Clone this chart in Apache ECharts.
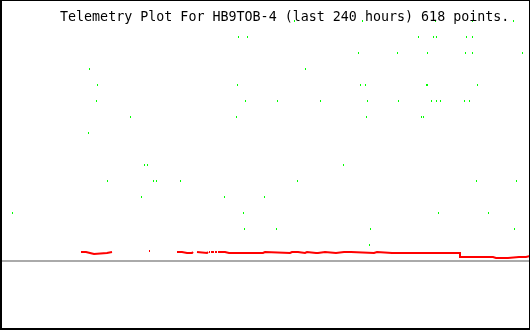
<!DOCTYPE html>
<html>
<head>
<meta charset="utf-8">
<style>
html,body{margin:0;padding:0;background:#fff;}
#chart{width:530px;height:330px;}
</style>
<script src="https://cdn.jsdelivr.net/npm/echarts@6/dist/echarts.min.js"></script>
</head>
<body>
<div id="chart"></div>
<script>
// Title
var titleText = 'Telemetry Plot For HB9TOB-4 (last 240 hours) 618 points.';

// Time window (hours relative to now)
var hourMin = -240;
var hourMax = 0;

// Green telemetry channel: hour of reading and value (raw units)
var greenHours = [
  -234.34, -199.92, -199.47, -196.30, -195.85, -191.32, -180.91, -175.92, -174.57, -173.21,
  -170.49, -169.13, -158.26, -138.34, -132.91, -132.45, -132.00, -129.74, -129.28, -128.83,
  -127.92, -120.23, -114.79, -114.34, -106.64, -105.28, -101.66, -94.87, -84.45, -77.66,
  -76.75, -75.85, -74.49, -74.04, -73.58, -72.68, -72.23, -60.00, -59.55, -50.49,
  -49.13, -48.23, -46.87, -46.42, -46.42, -44.60, -43.70, -42.79, -42.34, -42.34,
  -41.43, -40.53, -29.66, -29.21, -28.75, -27.40, -26.04, -26.04, -26.04, -24.23,
  -23.77, -18.79, -7.47, -7.02, -6.11, -3.40
];
var greenValues = [
  48, 128, 192, 160, 176, 80, 144, 64, 96, 96,
  80, 80, 80, 64, 144, 176, 224, 48, 32, 160,
  224, 64, 32, 160, 240, 80, 192, 160, 96, 208,
  176, 240, 176, 144, 160, 16, 32, 208, 160, 224,
  144, 144, 176, 176, 208, 160, 224, 240, 224, 160,
  48, 160, 160, 208, 224, 160, 240, 224, 208, 80,
  176, 48, 240, 32, 80, 208
];

// Red telemetry channel: step readings, each value holds until the next hour (null = gap)
var redHours = [
  -203.32, -201.06, -199.25, -197.43, -191.55, -189.28,
  -172.53, -172.08,
  -159.85, -157.58, -155.32, -154.42, -153.06, -152.60,
  -150.79, -150.34, -146.26, -145.81,
  -145.36, -144.91,
  -144.45, -143.09,
  -142.64, -141.74,
  -141.28, -138.11, -136.30, -135.85, -123.17, -122.72, -120.91, -120.00,
  -108.68, -107.77, -106.87, -105.06, -101.89, -100.98, -96.91, -96.45,
  -96.00, -92.83, -87.85, -84.23, -83.77, -81.06, -70.64, -69.28,
  -62.49, -62.04, -37.13, -36.68, -31.70, -16.75, -15.40, -14.94,
  -9.96, -4.98, -4.08, -1.81, 0
];
var redValues = [
  9, 8, 7, 8, 9, null,
  10, null,
  9, 8, 9, 8, 9, null,
  9, 8, 9, null,
  9, null,
  9, null,
  9, null,
  9, 8, 9, 8, 9, 8, 9, 8,
  9, 8, 9, 8, 9, 8, 9, 8,
  9, 8, 9, 8, 9, 8, 9, 8,
  9, 8, 9, 8, 4, 3, 4, 3,
  4, 3, 4, 5, null
];

var greenData = greenHours.map(function (h, i) { return [h, greenValues[i]]; });

// Build horizontal step segments from the readings
var redData = [];
for (var i = 0; i < redHours.length - 1; i++) {
  if (redValues[i] === null) { continue; }
  redData.push([redHours[i], redValues[i]]);
  redData.push([redHours[i + 1], redValues[i]]);
  if (redValues[i + 1] === null) { redData.push([redHours[i + 1], null]); }
}

var chart = echarts.init(document.getElementById('chart'), null, {renderer: 'canvas'});
chart.setOption({
  animation: false,
  backgroundColor: '#ffffff',
  title: {
    text: titleText,
    left: 60,
    top: 11,
    padding: 0,
    textStyle: {
      fontFamily: 'DejaVu Sans Mono',
      fontSize: 13.33,
      fontWeight: 'normal',
      color: '#000000'
    }
  },
  grid: {left: 0, right: 0, top: 5, bottom: 5, containLabel: false},
  xAxis: {
    type: 'value',
    min: hourMin,
    max: hourMax,
    axisLine: {show: true, onZero: true, lineStyle: {color: '#aaaaaa', width: 2}},
    axisTick: {show: false},
    axisLabel: {show: false},
    splitLine: {show: false}
  },
  yAxis: {
    type: 'value',
    min: -64,
    max: 256,
    axisLine: {show: false},
    axisTick: {show: false},
    axisLabel: {show: false},
    splitLine: {show: false}
  },
  series: [
    {
      type: 'line',
      data: redData,
      showSymbol: false,
      connectNulls: false,
      silent: true,
      lineStyle: {color: '#ff0000', width: 2, cap: 'butt', join: 'miter'},
      z: 2
    },
    {
      type: 'custom',
      data: greenData,
      silent: true,
      renderItem: function (params, api) {
        var p = api.coord([api.value(0), api.value(1)]);
        return {
          type: 'rect',
          shape: {x: Math.floor(p[0]), y: Math.round(p[1]) - 1, width: 1, height: 2},
          style: {fill: '#00ff00'}
        };
      },
      z: 3
    }
  ],
  graphic: [
    {type: 'rect', z: 100, silent: true, shape: {x: 0, y: 0, width: 2, height: 330}, style: {fill: '#000'}},
    {type: 'rect', z: 100, silent: true, shape: {x: 0, y: 0, width: 530, height: 1}, style: {fill: '#000'}},
    {type: 'rect', z: 100, silent: true, shape: {x: 529, y: 0, width: 1, height: 330}, style: {fill: '#000'}},
    {type: 'rect', z: 100, silent: true, shape: {x: 0, y: 328, width: 530, height: 2}, style: {fill: '#000'}}
  ]
});
</script>
</body>
</html>
